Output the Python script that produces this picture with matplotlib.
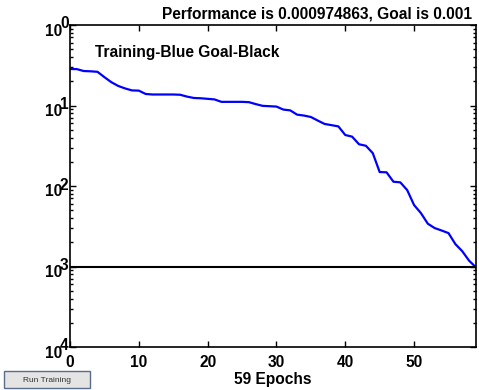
import matplotlib
matplotlib.use('Agg')
import matplotlib.pyplot as plt
import matplotlib.transforms as mtransforms
from matplotlib.patches import Rectangle
from matplotlib.ticker import LogLocator, NullFormatter

plt.rcParams['font.family'] = ['Liberation Sans', 'DejaVu Sans']
plt.rcParams['font.weight'] = 'bold'

# training performance per epoch
epochs = list(range(60))
perf = [0.284, 0.283, 0.268, 0.266, 0.262, 0.225, 0.195, 0.175, 0.163, 0.154,
        0.153, 0.139, 0.137, 0.137, 0.137, 0.137, 0.136, 0.129, 0.124, 0.123,
        0.121, 0.119, 0.111, 0.111, 0.111, 0.111, 0.110, 0.104, 0.099, 0.098,
        0.097, 0.089, 0.087, 0.077, 0.075, 0.072, 0.065, 0.059, 0.057, 0.055,
        0.043, 0.041, 0.033, 0.0316, 0.0256, 0.0149, 0.0148, 0.0113, 0.0111, 0.0089,
        0.0058, 0.0046, 0.0034, 0.0030, 0.0028, 0.0026, 0.0019, 0.00155, 0.00118, 0.000975]
goal = 0.001
decades = [1e0, 1e-1, 1e-2, 1e-3, 1e-4]
exponents = ['0', '1', '2', '3', '4']
x_ticks = [0, 10, 20, 30, 40, 50]

W, H = 479, 390
FS = 11.2
fig = plt.figure(figsize=(W / 100, H / 100), dpi=100)
ax = fig.add_axes([70 / W, 43 / H, 406 / W, 322 / H])

ax.semilogy(epochs, perf, color='#0000ff', lw=1.6, solid_joinstyle='round')
ax.axhline(goal, color='black', lw=1.5)

ax.set_xlim(0, 59)
ax.set_ylim(1e-4, 1e0)
ax.set_xticks(x_ticks)
ax.set_xticklabels([str(t) for t in x_ticks], fontsize=FS, fontweight='bold')
ax.yaxis.set_major_locator(LogLocator(base=10, numticks=10))
ax.yaxis.set_minor_locator(LogLocator(base=10, subs=range(2, 10), numticks=20))
ax.yaxis.set_major_formatter(NullFormatter())
ax.yaxis.set_minor_formatter(NullFormatter())
ax.tick_params(which='both', direction='in', top=True, right=True, width=1)
ax.tick_params(which='major', length=4)
ax.tick_params(axis='x', which='major', pad=6)
ax.tick_params(which='minor', length=2)
for s in ax.spines.values():
    s.set_linewidth(1.2)

# MATLAB-style "10" with an overlapping exponent
tr_lbl = mtransforms.blended_transform_factory(ax.transAxes, ax.transData)
for val, ex in zip(decades, exponents):
    t1 = tr_lbl + mtransforms.ScaledTranslation(-8 / 100, -6 / 100, fig.dpi_scale_trans)
    ax.text(0, val, '10', transform=t1, ha='right', va='center',
            fontsize=FS, fontweight='bold')
    t2 = tr_lbl + mtransforms.ScaledTranslation(-10 / 100, 1 / 100, fig.dpi_scale_trans)
    ax.text(0, val, ex, transform=t2, ha='left', va='center',
            fontsize=FS, fontweight='bold')

ax.set_xlabel('59 Epochs', fontsize=FS, fontweight='bold', labelpad=1)
fig.text(472 / W, 1 - 14 / H, 'Performance is 0.000974863, Goal is 0.001',
         ha='right', va='center', fontsize=FS, fontweight='bold')
fig.text(95 / W, 1 - 53 / H, 'Training-Blue Goal-Black',
         ha='left', va='center', fontsize=FS, fontweight='bold')

# the "Run Training" button
fig.patches.append(Rectangle((4 / W, 1 - 388 / H), 86 / W, 17 / H,
                             transform=fig.transFigure, facecolor='#e4e4e4',
                             edgecolor='#5a6e8c', lw=1))
fig.text(47 / W, 1 - 380 / H, 'Run Training', ha='center', va='center',
         fontsize=6, fontweight='normal', color='#333333')

fig.savefig('out.png', dpi=100)
